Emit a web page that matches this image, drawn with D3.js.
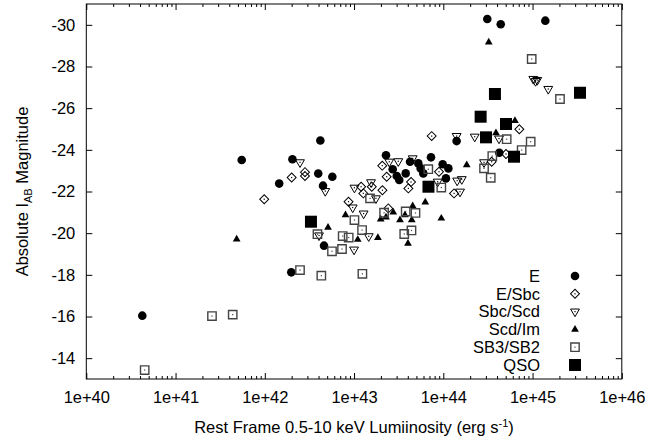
<!DOCTYPE html>
<meta charset="utf-8">
<style>
body { margin: 0; background: #fff; }
text { font-family: "Liberation Sans", Arial, Helvetica, sans-serif; fill: #000; }
</style>
<svg width="670" height="441"></svg>
<script src="https://d3js.org/d3.v7.min.js"></script>
<script>

var width = 670,
    height = 441,
    fontSize = 16.5;

// each point: [rest frame 0.5-10 keV luminosity (erg/s), absolute I_AB magnitude]
var typeE = [
  [4.24e40, -16.04], [5.51e41, -23.51], [4.19e42, -24.45], [2.04e42, -23.55], [3.97e42, -22.86],
  [5.71e42, -22.71], [1.45e42, -22.38], [4.49e42, -22.28], [2.28e43, -23.74], [2.71e43, -23.07],
  [3.01e43, -22.74], [3.79e43, -22.87], [4.24e43, -23.43], [5.25e43, -23.35], [5.58e43, -23.11],
  [5.97e43, -22.87], [7.28e43, -23.64], [9.84e43, -23.31], [1.14e44, -23.11], [1.07e44, -22.63],
  [3.21e43, -22.55], [1.41e44, -24.42], [3.11e44, -30.28], [4.40e44, -30.03], [1.39e45, -30.20],
  [4.24e44, -23.86], [4.61e42, -19.40], [1.98e42, -18.12]
];

var typeESbc = [
  [9.85e41, -21.63], [2.00e42, -22.67], [2.82e42, -22.93], [2.82e42, -22.74], [8.67e42, -21.51],
  [1.20e43, -22.23], [1.27e43, -21.91], [2.08e43, -22.06], [2.07e43, -23.24], [2.32e43, -22.71],
  [2.42e43, -21.19], [4.06e43, -22.15], [4.35e43, -22.46], [8.95e43, -22.95], [1.32e44, -21.91],
  [7.41e43, -24.66], [3.48e44, -23.43], [5.04e44, -23.80], [7.11e44, -24.99], [1.58e43, -22.23]
];

var typeSbcScd = [
  [2.48e42, -23.40], [4.76e42, -22.02], [1.01e43, -22.18], [9.66e42, -21.23], [1.55e43, -22.44],
  [1.76e43, -21.67], [1.28e43, -20.94], [4.05e42, -19.89], [1.46e43, -19.85], [1.00e43, -19.21],
  [3.13e43, -23.45], [4.54e43, -23.59], [8.65e43, -22.47], [1.43e44, -22.52], [1.61e44, -22.59],
  [1.54e44, -21.99], [1.41e44, -24.66], [2.25e44, -24.63], [4.21e44, -24.54], [2.86e44, -23.40],
  [1.02e45, -27.40], [1.08e45, -27.30], [1.13e45, -27.35], [1.50e45, -26.92], [2.48e43, -23.43]
];

var typeScdIm = [
  [4.84e41, -19.71], [5.11e42, -20.27], [8.02e42, -20.87], [1.10e43, -19.69], [1.85e43, -19.78],
  [1.99e43, -20.67], [2.28e43, -20.76], [2.75e43, -21.00], [3.27e43, -20.63], [4.02e43, -19.50],
  [4.43e43, -20.63], [4.54e43, -21.30], [6.28e43, -21.48], [9.50e43, -20.71], [1.83e44, -23.27],
  [3.89e44, -24.81], [6.35e44, -25.40], [3.23e44, -29.16], [3.72e43, -20.87]
];

var typeSB = [
  [4.51e40, -13.43], [2.56e41, -16.02], [4.37e41, -16.09], [2.48e42, -18.23], [4.30e42, -17.96],
  [1.24e43, -18.05], [3.89e42, -19.95], [7.46e42, -19.86], [8.71e42, -19.79], [5.66e42, -19.13],
  [7.33e42, -19.24], [1.01e43, -20.63], [1.23e43, -20.15], [1.51e43, -21.67], [2.17e43, -20.98],
  [3.65e43, -19.96], [4.40e43, -20.13], [3.79e43, -21.04], [4.88e43, -20.97], [6.79e43, -23.07],
  [9.50e43, -22.19], [5.13e44, -24.51], [9.53e44, -24.39], [7.55e44, -23.99], [3.54e44, -23.70],
  [2.86e44, -23.11], [3.40e44, -22.66], [9.78e44, -28.36], [2.03e45, -26.44]
];

var typeQSO = [
  [3.29e42, -20.55], [6.82e43, -22.23], [3.01e44, -24.60], [2.62e44, -25.59], [3.79e44, -26.68],
  [5.04e44, -25.24], [6.20e44, -23.67], [3.40e45, -26.74]
];

var seriesNames = ["E", "E/Sbc", "Sbc/Scd", "Scd/Im", "SB3/SB2", "QSO"];
var xTicks = [1e40, 1e41, 1e42, 1e43, 1e44, 1e45, 1e46];
var yTicks = [-30, -28, -26, -24, -22, -20, -18, -16, -14];

var x = d3.scaleLog().domain([1e40, 1e46]).range([86.3, 621.8]),
    y = d3.scaleLinear().domain([-13, -31]).range([379, 4]);

var svg = d3.select("svg");

// minor ticks 2..9 inside each decade
var xMinor = [];
xTicks.slice(0, -1).forEach(function(d) {
  for (var k = 2; k < 10; k++) xMinor.push(d * k);
});

function fmtX(d) { return "1e+" + Math.round(Math.log10(d)); }

var ax = svg.append("g").attr("class", "axes");

ax.append("g").attr("transform", "translate(0,379)")
    .call(d3.axisBottom(x).tickValues(xTicks).tickSize(-6).tickPadding(12.5).tickFormat(fmtX));
ax.append("g").attr("transform", "translate(0,379)")
    .call(d3.axisBottom(x).tickValues(xMinor).tickSize(-3).tickFormat(""));
ax.append("g").attr("transform", "translate(0,4)")
    .call(d3.axisTop(x).tickValues(xTicks).tickSize(-6).tickFormat(""));
ax.append("g").attr("transform", "translate(0,4)")
    .call(d3.axisTop(x).tickValues(xMinor).tickSize(-3).tickFormat(""));
ax.append("g").attr("transform", "translate(86.3,0)")
    .call(d3.axisLeft(y).tickValues(yTicks).tickSize(-6).tickPadding(11).tickFormat(function(d) { return String(d); }));
ax.append("g").attr("transform", "translate(621.8,0)")
    .call(d3.axisRight(y).tickValues(yTicks).tickSize(-6).tickFormat(""));

ax.selectAll(".domain").remove();
ax.selectAll(".tick line").attr("stroke", "#000");
ax.selectAll(".tick text").attr("font-size", fontSize).attr("font-family", null);

svg.append("rect")
    .attr("x", 86.3).attr("y", 4)
    .attr("width", 621.8 - 86.3).attr("height", 375)
    .attr("fill", "none").attr("stroke", "#000").attr("stroke-width", 1);

// point styles
var styles = {
  "E":       {type: d3.symbolCircle, size: 58, fill: "#000", stroke: "none", rot: 0, dot: false},
  "E/Sbc":   {type: d3.symbolSquare, size: 40, fill: "none", stroke: "#000", rot: 45, dot: true},
  "Sbc/Scd": {type: d3.symbolTriangle, size: 34, fill: "none", stroke: "#000", rot: 180, dot: true},
  "Scd/Im":  {type: d3.symbolTriangle, size: 26, fill: "#000", stroke: "none", rot: 0, dot: false},
  "SB3/SB2": {type: d3.symbolSquare, size: 70, fill: "none", stroke: "#444", rot: 0, dot: true},
  "QSO":     {type: d3.symbolSquare, size: 144, fill: "#000", stroke: "none", rot: 0, dot: false}
};

var allData = [typeE, typeESbc, typeSbcScd, typeScdIm, typeSB, typeQSO];

function drawMark(sel, st) {
  sel.append("path")
      .attr("d", d3.symbol().type(st.type).size(st.size)())
      .attr("transform", "rotate(" + st.rot + ")")
      .attr("fill", st.fill)
      .attr("stroke", st.stroke)
      .attr("stroke-width", st.stroke === "#444" ? 1.4 : 1);
  if (st.dot) {
    sel.append("rect")
        .attr("x", -0.6).attr("y", -0.6)
        .attr("width", 1.2).attr("height", 1.2)
        .attr("fill", st.stroke);
  }
}

var plot = svg.append("g");
seriesNames.forEach(function(name, i) {
  var st = styles[name];
  plot.append("g").selectAll("g")
      .data(allData[i])
    .enter().append("g")
      .attr("transform", function(d) { return "translate(" + x(d[0]) + "," + y(d[1]) + ")"; })
      .each(function() { drawMark(d3.select(this), st); });
});

// legend
var legend = svg.append("g");
seriesNames.forEach(function(name, i) {
  var yy = 276 + i * 17.8;
  legend.append("text")
      .attr("x", 540).attr("y", yy)
      .attr("dy", "0.35em")
      .attr("text-anchor", "end")
      .attr("font-size", fontSize)
      .text(name);
  var g = legend.append("g").attr("transform", "translate(575," + yy + ")");
  drawMark(g, styles[name]);
});

// axis titles
var xt = svg.append("text")
    .attr("x", 354).attr("y", 433)
    .attr("text-anchor", "middle")
    .attr("font-size", fontSize);
xt.append("tspan").text("Rest Frame 0.5-10 keV Lumiinosity (erg s");
xt.append("tspan").attr("dy", -6).attr("font-size", 11).text("-1");
xt.append("tspan").attr("dy", 6).text(")");

var yt = svg.append("text")
    .attr("transform", "translate(28,191.5) rotate(-90)")
    .attr("text-anchor", "middle")
    .attr("font-size", fontSize);
yt.append("tspan").text("Absolute I");
yt.append("tspan").attr("dy", 4).attr("font-size", 11).text("AB");
yt.append("tspan").attr("dy", -4).text(" Magnitude");

</script>
